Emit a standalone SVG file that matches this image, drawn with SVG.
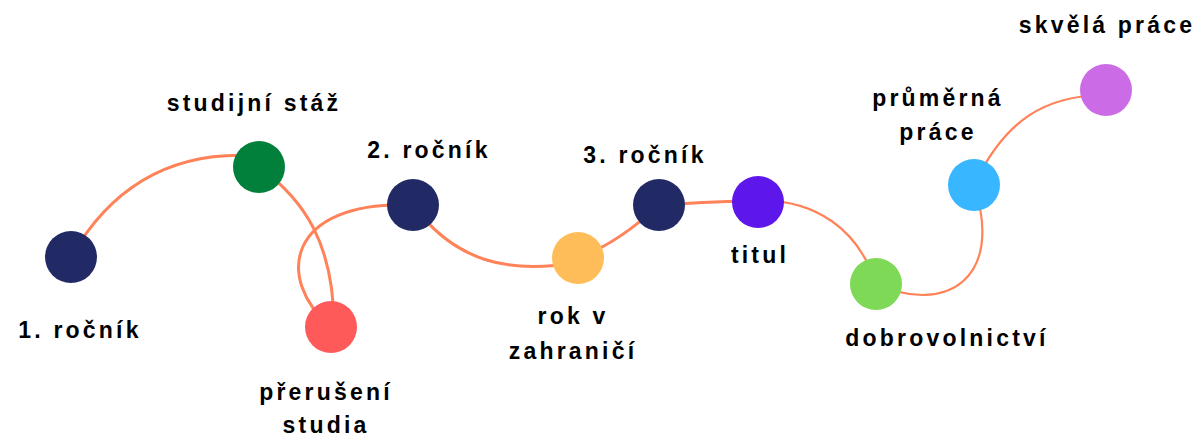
<svg xmlns="http://www.w3.org/2000/svg" width="1197" height="436" viewBox="0 0 1197 436">
  <style>
    .link { fill: none; stroke: #FF8258; stroke-width: 3; stroke-linecap: round; }
    .thin { stroke-width: 2.2; }
    .node { stroke: none; }
    .label { font-family: "Liberation Sans", Arial, sans-serif; font-weight: bold; font-size: 23px; letter-spacing: 3.2px; fill: #000; text-anchor: middle; }
  </style>
  <rect width="1197" height="436" fill="#fff"/>

  <!-- path of the journey, drawn behind the nodes -->
  <g id="connectors">
    <path class="link" d="M 71,257 C 115,180 180,150 259,156"/>
    <path class="link" d="M 259,167 C 305,200 334,245 334,327"/>
    <path class="link" d="M 331,327 C 275,280 285,200 413,205"/>
    <path class="link" d="M 413,205 C 455,262 510,275 578,262"/>
    <path class="link" d="M 578,258 C 605,248 630,232 659,205"/>
    <path class="link" d="M 659,205 C 690,203 720,201 758,201"/>
    <path class="link thin" d="M 758,200 C 815,200 858,228 876,284"/>
    <path class="link thin" d="M 876,284 C 945,315 1005,280 974,185"/>
    <path class="link thin" d="M 974,185 C 1005,120 1045,95 1106,95"/>
  </g>

  <g id="n-rocnik1">
    <circle class="node" cx="71" cy="257" r="26" fill="#222A66"/>
    <text class="label" x="80" y="338">1. ročník</text>
  </g>
  <g id="n-staz">
    <circle class="node" cx="259" cy="167" r="26" fill="#00803A"/>
    <text class="label" x="254" y="111">studijní stáž</text>
  </g>
  <g id="n-preruseni">
    <circle class="node" cx="331" cy="327" r="26" fill="#FF5A5A"/>
    <text class="label" x="326" y="400">přerušení</text>
    <text class="label" x="326" y="433">studia</text>
  </g>
  <g id="n-rocnik2">
    <circle class="node" cx="413" cy="205" r="26" fill="#222A66"/>
    <text class="label" x="429" y="158">2. ročník</text>
  </g>
  <g id="n-zahranici">
    <circle class="node" cx="578" cy="258" r="26" fill="#FFBD59"/>
    <text class="label" x="573" y="324">rok v</text>
    <text class="label" x="573" y="359">zahraničí</text>
  </g>
  <g id="n-rocnik3">
    <circle class="node" cx="659" cy="205" r="26" fill="#222A66"/>
    <text class="label" x="645" y="163">3. ročník</text>
  </g>
  <g id="n-titul">
    <circle class="node" cx="758" cy="202" r="26" fill="#5E17EB"/>
    <text class="label" x="760" y="263">titul</text>
  </g>
  <g id="n-dobrovolnictvi">
    <circle class="node" cx="876" cy="284" r="26" fill="#7ED957"/>
    <text class="label" x="947" y="346">dobrovolnictví</text>
  </g>
  <g id="n-prumerna">
    <circle class="node" cx="974" cy="185" r="26" fill="#38B6FF"/>
    <text class="label" x="938" y="106">průměrná</text>
    <text class="label" x="938" y="140">práce</text>
  </g>
  <g id="n-skvela">
    <circle class="node" cx="1106" cy="90" r="26" fill="#CB6CE6"/>
    <text class="label" x="1107" y="33">skvělá práce</text>
  </g>
</svg>
